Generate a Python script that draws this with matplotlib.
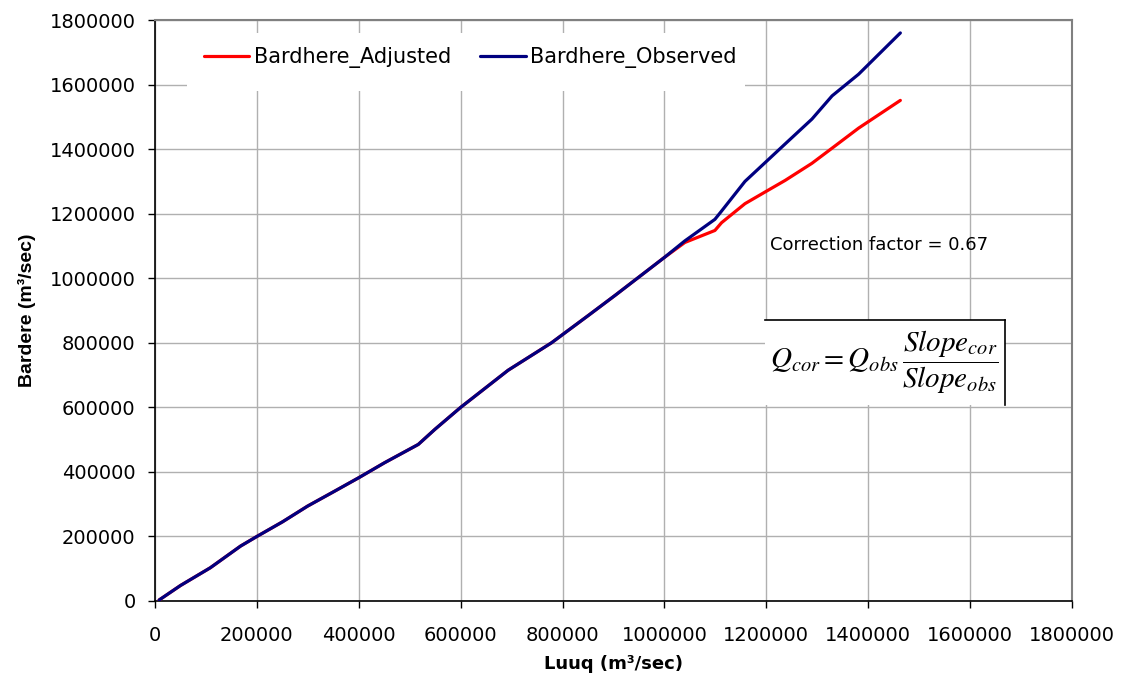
import matplotlib
matplotlib.use('Agg')
import matplotlib.pyplot as plt
from matplotlib.patches import Rectangle

# 그래프 값
luuq = [8000, 50000, 108600, 167800, 200000, 250000, 299500, 350000, 400000,
        450700, 516700, 549500, 600000, 693000, 778300, 850000, 903000,
        1000000, 1040000, 1099000, 1112000, 1158000, 1200000, 1236800,
        1289400, 1329000, 1381000, 1463000]
bardhere_observed = [3000, 48000, 103000, 170000, 200000, 245000, 294000, 338000, 382000,
                     428500, 485000, 532000, 600000, 714800, 800000, 884000, 946800,
                     1064600, 1115700, 1182500, 1208000, 1300000, 1361800, 1416000,
                     1493000, 1565000, 1632000, 1760000]
bardhere_adjusted = [3000, 48000, 103000, 170000, 200000, 245000, 294000, 338000, 382000,
                     428500, 485000, 532000, 600000, 714800, 800000, 884000, 946800,
                     1064600, 1110800, 1148000, 1172000, 1231000, 1269500, 1303000,
                     1356000, 1403000, 1465000, 1551000]
ticks = [0, 200000, 400000, 600000, 800000, 1000000, 1200000, 1400000, 1600000, 1800000]

plt.rcParams['font.family'] = ['DejaVu Sans']
plt.rcParams['font.size'] = 13

fig = plt.figure(figsize=(11.3, 6.81), dpi=100)
ax = fig.add_axes([0.1372, 0.1175, 0.8115, 0.8531])

ax.plot(luuq, bardhere_adjusted, color='#ff0000', lw=2.3,
        solid_capstyle='round', label='Bardhere_Adjusted', zorder=3)
ax.plot(luuq, bardhere_observed, color='#000080', lw=2.3,
        solid_capstyle='round', label='Bardhere_Observed', zorder=4)

ax.set_xlim(0, 1800000)
ax.set_ylim(0, 1800000)
ax.set_xticks(ticks)
ax.set_yticks(ticks)
ax.set_xticklabels([str(t) for t in ticks])
ax.set_yticklabels([str(t) for t in ticks])
ax.tick_params(axis='x', direction='out', length=5, width=1, pad=13, labelsize=14)
ax.tick_params(axis='y', direction='out', length=5, width=1, pad=9, labelsize=14)

# 격자와 테두리
ax.grid(True, color='#b0b0b0', lw=1)
ax.set_axisbelow(True)
for side in ['left', 'bottom']:
    ax.spines[side].set_color('black')
    ax.spines[side].set_linewidth(1.2)
for side in ['top', 'right']:
    ax.spines[side].set_color('#808080')
    ax.spines[side].set_linewidth(1.5)

ax.set_xlabel('Luuq (m³/sec)', fontweight='bold', fontsize=13, labelpad=7)
ax.set_ylabel('Bardere (m³/sec)', fontweight='bold', fontsize=14,
              family='Liberation Sans', labelpad=10)

# 범례 뒤 흰 상자
ax.add_patch(Rectangle((0.035, 0.878), 0.608, 0.1, transform=ax.transAxes,
                       facecolor='white', edgecolor='none', zorder=1))
leg = ax.legend(loc='center left', bbox_to_anchor=(0.053, 0.935), ncol=2,
                frameon=False, handlelength=2.2, handletextpad=0.2,
                columnspacing=1.4, borderpad=0, borderaxespad=0, fontsize=15)

ax.text(0.6707, 0.6127, 'Correction factor = 0.67', transform=ax.transAxes,
        ha='left', va='center', fontsize=13)

# 수식 상자
ax.add_patch(Rectangle((0.665, 0.337), 0.262, 0.147, transform=ax.transAxes,
                       facecolor='white', edgecolor='none', zorder=5))
ax.plot([0.665, 0.927], [0.484, 0.484], transform=ax.transAxes, color='black', lw=1.2, zorder=6)
ax.plot([0.927, 0.927], [0.337, 0.484], transform=ax.transAxes, color='black', lw=1.2, zorder=6)
ax.text(0.7955, 0.41, r'$Q_{cor} = Q_{obs}\,\dfrac{Slope_{cor}}{Slope_{obs}}$',
        transform=ax.transAxes, ha='center', va='center', fontsize=21,
        math_fontfamily='stix', zorder=7)

plt.savefig('out.png', dpi=100)
